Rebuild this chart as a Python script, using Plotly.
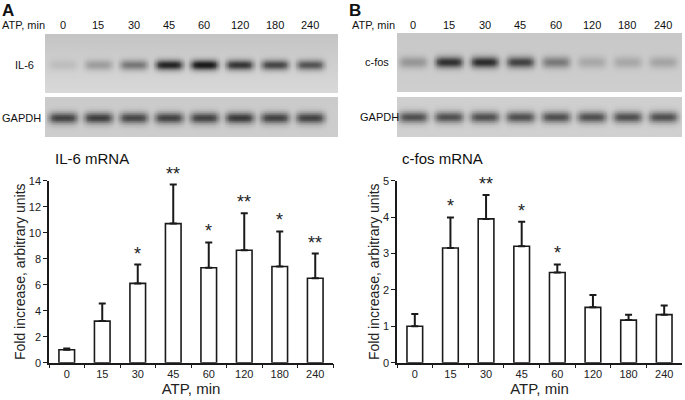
import plotly.graph_objects as go
import numpy as np

# data
lanes = ["0", "15", "30", "45", "60", "120", "180", "240"]

il6_mean = [1.0, 3.2, 6.1, 10.7, 7.3, 8.65, 7.4, 6.5]
il6_err = [0.1, 1.35, 1.45, 3.0, 1.95, 2.85, 2.7, 1.9]
il6_sig = ["", "", "*", "**", "*", "**", "*", "**"]

cfos_mean = [1.0, 3.15, 3.95, 3.2, 2.48, 1.52, 1.17, 1.32]
cfos_err = [0.34, 0.84, 0.66, 0.67, 0.22, 0.34, 0.15, 0.25]
cfos_sig = ["", "*", "**", "*", "*", "", "", ""]

# gel band darkness per lane (0..1)
il6_band = [0.10, 0.28, 0.48, 0.86, 0.92, 0.78, 0.70, 0.64]
gapdh_a_band = [0.70, 0.72, 0.68, 0.70, 0.70, 0.74, 0.70, 0.70]
cfos_band = [0.30, 0.78, 0.80, 0.70, 0.45, 0.20, 0.20, 0.22]
gapdh_b_band = [0.66, 0.66, 0.66, 0.66, 0.66, 0.66, 0.66, 0.66]

FONT = "Arial, Liberation Sans, sans-serif"
W, H = 685, 400


def px(x):
    return x / W


def py(y):
    return 1 - y / H


def gel(band, xr, yc, hw, hh, bg_top, bg_bot):
    xs = np.linspace(xr[0], xr[1], 360)
    ys = np.linspace(0, 1, 60)
    X, Y = np.meshgrid(xs, ys)
    z = bg_bot + (bg_top - bg_bot) * Y
    for k, b in enumerate(band):
        z = z + b * np.exp(-np.abs((X - k) / hw) ** 5) * np.exp(-((Y - yc) / hh) ** 2)
    return xs, ys, np.clip(z, 0, 1)


gray = [[0, "#e2e2e2"], [0.5, "#8a8a8a"], [1, "#1c1c1c"]]

fig = go.Figure()

# gels
panels = [
    # band, xaxis, yaxis, x range, band y centre, half-width, half-height, bg top, bg bottom
    (il6_band, "x3", "y3", [-0.51, 7.79], 0.48, 0.40, 0.09, 0.17, 0.05),
    (gapdh_a_band, "x4", "y4", [-0.51, 7.79], 0.48, 0.42, 0.15, 0.13, 0.12),
    (cfos_band, "x5", "y5", [-0.45, 7.53], 0.51, 0.40, 0.10, 0.15, 0.11),
    (gapdh_b_band, "x6", "y6", [-0.45, 7.53], 0.50, 0.42, 0.15, 0.11, 0.10),
]
for band, xa, ya, xr, yc, hw, hh, bt, bb in panels:
    xs, ys, z = gel(band, xr, yc, hw, hh, bt, bb)
    fig.add_trace(go.Heatmap(x=xs, y=ys, z=z, colorscale=gray, zmin=0, zmax=1,
                             showscale=False, zsmooth="best", xaxis=xa, yaxis=ya,
                             hoverinfo="skip"))

# bar charts
for mean, err, xa, ya in [(il6_mean, il6_err, "x", "y"), (cfos_mean, cfos_err, "x2", "y2")]:
    fig.add_trace(go.Bar(
        x=lanes, y=mean, width=0.44, xaxis=xa, yaxis=ya,
        marker=dict(color="white", line=dict(color="#1a1a1a", width=1.6)),
        error_y=dict(type="data", array=err, arrayminus=[0] * len(err), symmetric=False,
                     color="#1a1a1a", thickness=2, width=3.5),
    ))

tickfont = dict(family=FONT, size=11, color="#222")

def bar_axes(xdom, yrange, dtick):
    xa = dict(domain=xdom, type="category", range=[-0.5, len(lanes) - 0.5],
              showline=True, linecolor="#1a1a1a", linewidth=1.5,
              ticks="outside", tickson="boundaries", ticklen=4, tickcolor="#1a1a1a",
              tickfont=tickfont, showgrid=False, zeroline=False,
              title=dict(text="ATP, min", font=dict(family=FONT, size=15, color="#222"),
                         standoff=4))
    ya = dict(domain=[py(362.7), py(180.7)], range=yrange, dtick=dtick, showline=True,
              linecolor="#1a1a1a", linewidth=1.5, ticks="outside", ticklen=4,
              tickcolor="#1a1a1a", tickfont=tickfont, showgrid=False, zeroline=False,
              title=dict(text="Fold increase, arbitrary units",
                         font=dict(family=FONT, size=14, color="#222"), standoff=0))
    return xa, ya

xa1, ya1 = bar_axes([px(49), px(333)], [0, 14], 2)
xa2, ya2 = bar_axes([px(397), px(682)], [0, 5], 1)
ya2["anchor"] = "x2"
xa2["anchor"] = "y2"

def gel_axes(xdom, ydom, xr, anchor):
    xa = dict(domain=xdom, range=xr, showgrid=False, zeroline=False, showline=False,
              showticklabels=False, ticks="", anchor=anchor)
    ya = dict(domain=ydom, range=[0, 1], showgrid=False, zeroline=False,
              showticklabels=False, showline=False)
    return xa, ya

xa3, ya3 = gel_axes([px(45), px(338)], [py(93), py(34)], [-0.51, 7.79], "y3")
xa4, ya4 = gel_axes([px(45), px(338)], [py(137), py(97)], [-0.51, 7.79], "y4")
xa5, ya5 = gel_axes([px(397), px(682)], [py(92), py(33)], [-0.45, 7.53], "y5")
xa6, ya6 = gel_axes([px(397), px(682)], [py(137), py(97)], [-0.45, 7.53], "y6")
ya3["anchor"] = "x3"; ya4["anchor"] = "x4"; ya5["anchor"] = "x5"; ya6["anchor"] = "x6"

annotations = []
for sig, mean, err, xref, yref in [(il6_sig, il6_mean, il6_err, "x", "y"),
                                   (cfos_sig, cfos_mean, cfos_err, "x2", "y2")]:
    # category index positions on the bar axis
    for i, (s, m, e) in enumerate(zip(sig, mean, err)):
        if s:
            annotations.append(dict(x=i, y=m + e, xref=xref, yref=yref, text=s,
                                    showarrow=False, yanchor="bottom", yshift=-1,
                                    font=dict(family=FONT, size=18, color="#222")))

# lane labels above the gels
for xref in ["x3", "x5"]:
    for i, lab in enumerate(lanes):
        annotations.append(dict(x=i, y=py(25), xref=xref, yref="paper", text=lab,
                                showarrow=False, yanchor="middle",
                                font=dict(family=FONT, size=11, color="#111")))

def note(text, x, y, size=11, bold=False, xanchor="left"):
    annotations.append(dict(x=px(x), y=py(y), xref="paper", yref="paper",
                            text=f"<b>{text}</b>" if bold else text, showarrow=False,
                            xanchor=xanchor, yanchor="middle",
                            font=dict(family=FONT, size=size, color="#111")))

note("A", 0, 10, 17, True)
note("B", 347, 10, 17, True)
note("ATP, min", 0, 25)
note("ATP, min", 350, 25)
note("IL-6", 13, 65)
note("GAPDH", 0, 118)
note("c-fos", 363, 62)
note("GAPDH", 358, 117)
note("IL-6 mRNA", 53, 158, 15)
note("c-fos mRNA", 400, 158, 15)

fig.update_layout(
    width=W, height=H, autosize=False, margin=dict(l=0, r=0, t=0, b=0, autoexpand=False),
    paper_bgcolor="white", plot_bgcolor="white", showlegend=False,
    font=dict(family=FONT),
    xaxis=xa1, yaxis=ya1, xaxis2=xa2, yaxis2=ya2,
    xaxis3=xa3, yaxis3=ya3, xaxis4=xa4, yaxis4=ya4,
    xaxis5=xa5, yaxis5=ya5, xaxis6=xa6, yaxis6=ya6,
    annotations=annotations,
)

fig.write_html("out.html", config={"displayModeBar": False, "responsive": False},
               post_script="document.body.style.margin='0';")
